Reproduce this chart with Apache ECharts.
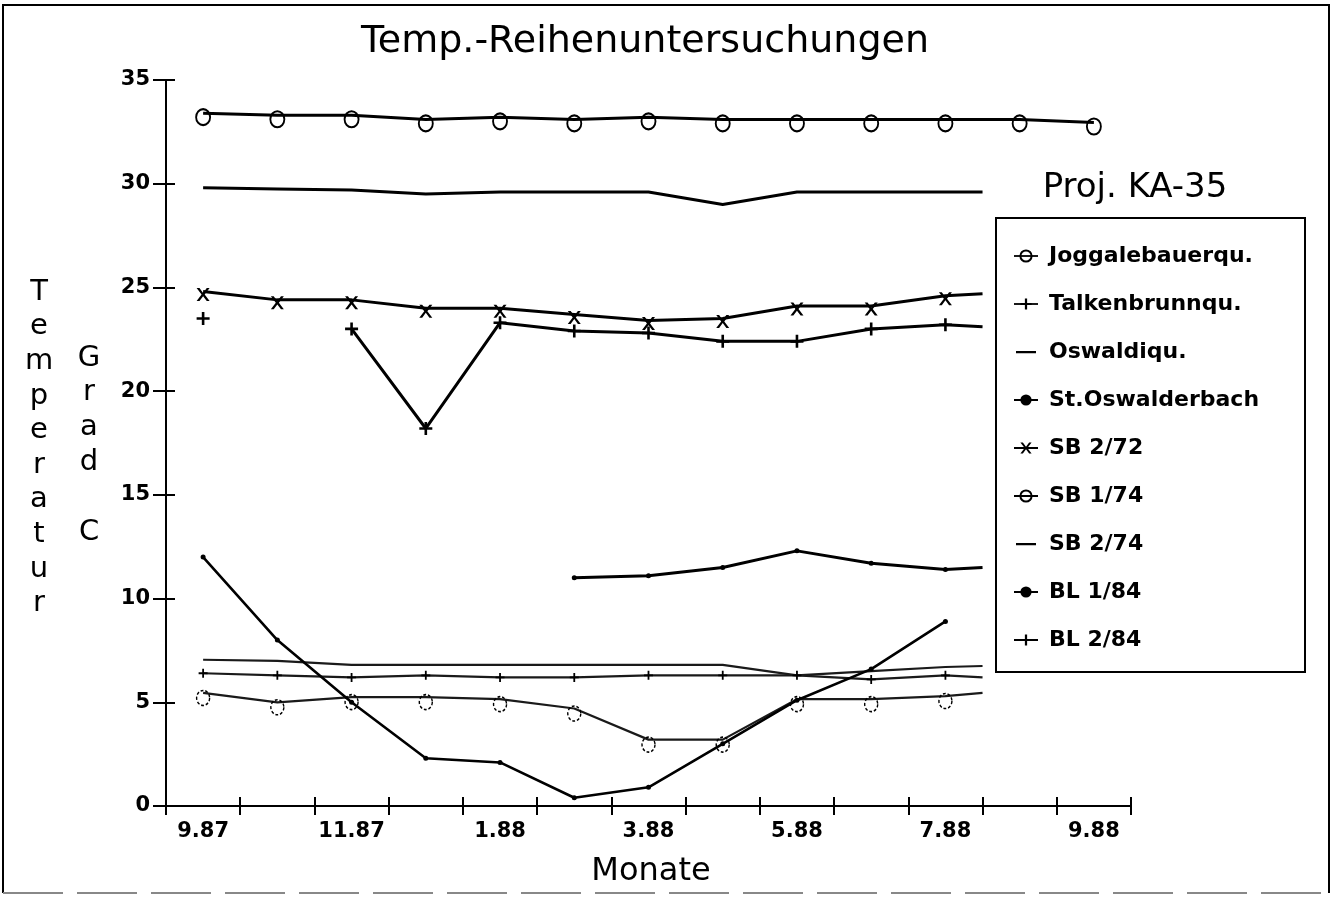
<!DOCTYPE html>
<html>
<head>
<meta charset="utf-8">
<script src="https://cdn.jsdelivr.net/npm/echarts@6/dist/echarts.min.js"></script>
<style>
  html, body { margin: 0; padding: 0; background: #fff; }
  #chart { width: 1335px; height: 898px; }
</style>
</head>
<body>
<div id="chart"></div>
<script>
// Monate (Kategorien der x-Achse)
const monthLabels = ['9.87', '10.87', '11.87', '12.87', '1.88', '2.88', '3.88', '4.88', '5.88', '6.88', '7.88', '8.88', '9.88'];

// Messzeitpunkte als Monatsindex (0 = 9.87), 10.5 = Mitte August 88
const fullPos = [0, 1, 2, 3, 4, 5, 6, 7, 8, 9, 10, 10.5];
const sb174Pos = [0, 1, 2, 3, 4, 5, 6, 7, 8, 9, 10, 11, 12];
const bl184Pos = [5, 6, 7, 8, 9, 10, 10.5];
const bachPos = [0, 1, 2, 3, 4, 5, 6, 7, 8, 9, 10];

// Temperaturen in Grad C
const joggVals = [5.45, 5.0, 5.25, 5.25, 5.15, 4.7, 3.2, 3.2, 5.15, 5.15, 5.3, 5.45];
const talkVals = [6.4, 6.3, 6.2, 6.3, 6.2, 6.2, 6.3, 6.3, 6.3, 6.1, 6.3, 6.2];
const oswaldiVals = [7.05, 7.0, 6.8, 6.8, 6.8, 6.8, 6.8, 6.8, 6.3, 6.5, 6.7, 6.75];
const bachVals = [12.0, 8.0, 5.0, 2.3, 2.1, 0.4, 0.9, 3.0, 5.1, 6.6, 8.9];
const sb272Vals = [24.8, 24.4, 24.4, 24.0, 24.0, 23.7, 23.4, 23.5, 24.1, 24.1, 24.6, 24.7];
const sb174Vals = [33.4, 33.3, 33.3, 33.1, 33.2, 33.1, 33.2, 33.1, 33.1, 33.1, 33.1, 33.1, 32.95];
const sb274Vals = [29.8, 29.75, 29.7, 29.5, 29.6, 29.6, 29.6, 29.0, 29.6, 29.6, 29.6, 29.6];
const bl184Vals = [11.0, 11.1, 11.5, 12.3, 11.7, 11.4, 11.5];
const bl284Vals = [23.5, null, 23.0, 18.2, 23.3, 22.9, 22.8, 22.4, 22.4, 23.0, 23.2, 23.1];

const FONT = 'DejaVu Sans';

// Symbole
const plusPath = 'path://M4,0 H6 V4 H10 V6 H6 V10 H4 V6 H0 V4 H4 Z';
const xPath = 'path://M0,0 L2.2,0 L5,3.8 L7.8,0 L10,0 L6.2,5 L10,10 L7.8,10 L5,6.2 L2.2,10 L0,10 L3.8,5 Z';
// Legendensymbol nur Strich (unsichtbare Eckpunkte halten die Box)
const barIcon = 'path://M0,0 L0.01,0 L0,0.01 Z M2,6 H22 V8.2 H2 Z M24,14 L23.99,14 L24,13.99 Z';

// Punkte bauen; x um 0.5 verschoben, damit der Wert in der Mitte des Monats liegt
function pts(pos, vals) {
  return pos.map((p, i) => {
    const v = vals[i] == null ? '-' : vals[i];
    const d = { value: [p + 0.5, v] };
    if (p % 1 !== 0) d.symbol = 'none';
    return d;
  });
}

function mkSeries(name, pos, vals, opt) {
  return Object.assign({
    name: name,
    type: 'line',
    xAxisIndex: 1,
    yAxisIndex: 0,
    data: pts(pos, vals),
    connectNulls: false,
    animation: false,
    color: '#000',
    lineStyle: { color: '#000', width: 3 },
    symbol: 'none'
  }, opt);
}

const series = [
  mkSeries('Joggalebauerqu.', fullPos, joggVals, {
    lineStyle: { color: '#1a1a1a', width: 2.2 },
    symbol: 'circle', symbolSize: [13, 15], symbolOffset: [0, 5],
    itemStyle: { color: 'rgba(255,255,255,0)', borderColor: '#000', borderWidth: 1.5, borderType: [3, 2] }
  }),
  mkSeries('Talkenbrunnqu.', fullPos, talkVals, {
    lineStyle: { color: '#1a1a1a', width: 2.2 },
    symbol: plusPath, symbolSize: 9,
    itemStyle: { color: '#000' }
  }),
  mkSeries('Oswaldiqu.', fullPos, oswaldiVals, {
    lineStyle: { color: '#1a1a1a', width: 2.2 }
  }),
  mkSeries('St.Oswalderbach', bachPos, bachVals, {
    lineStyle: { color: '#000', width: 2.6 },
    symbol: 'circle', symbolSize: 5,
    itemStyle: { color: '#000' }
  }),
  mkSeries('SB 2/72', fullPos, sb272Vals, {
    symbol: xPath, symbolSize: [13, 13], symbolOffset: [0, 3],
    itemStyle: { color: '#000' }
  }),
  mkSeries('SB 1/74', sb174Pos, sb174Vals, {
    symbol: 'circle', symbolSize: [14, 16], symbolOffset: [0, 4],
    itemStyle: { color: 'rgba(255,255,255,0)', borderColor: '#000', borderWidth: 2 }
  }),
  mkSeries('SB 2/74', fullPos, sb274Vals, {}),
  mkSeries('BL 1/84', bl184Pos, bl184Vals, {
    symbol: 'circle', symbolSize: 5,
    itemStyle: { color: '#000' }
  }),
  mkSeries('BL 2/84', fullPos, bl284Vals, {
    symbol: plusPath, symbolSize: 13,
    itemStyle: { color: '#000' }
  })
];

const legendData = series.map(s => (s.symbol === 'none' ? { name: s.name, icon: barIcon } : { name: s.name }));

const chart = echarts.init(document.getElementById('chart'));

const option = {
  backgroundColor: '#fff',
  animation: false,
  title: {
    text: 'Temp.-Reihenuntersuchungen',
    left: 640,
    top: 18,
    textAlign: 'center',
    textStyle: { fontFamily: FONT, fontSize: 38, fontWeight: 'normal', color: '#000' }
  },
  grid: { left: 166, right: 204, top: 80, bottom: 92, containLabel: false },
  legend: {
    orient: 'vertical',
    left: 1008,
    top: 239,
    itemWidth: 24,
    itemHeight: 14,
    itemGap: 24,
    selectedMode: false,
    textStyle: { fontFamily: FONT, fontSize: 22, fontWeight: 'bold', color: '#000', lineHeight: 24, padding: [0, 0, 0, 6] },
    data: legendData
  },
  xAxis: [
    {
      type: 'category',
      data: monthLabels,
      boundaryGap: true,
      axisLine: { lineStyle: { color: '#000', width: 2 } },
      axisTick: { show: true, interval: 0, alignWithLabel: false, length: 9, lineStyle: { color: '#000', width: 2 } },
      axisLabel: { interval: 1, margin: 15, color: '#000', fontFamily: FONT, fontSize: 21, fontWeight: 'bold' },
      splitLine: { show: false }
    },
    {
      type: 'value',
      min: 0,
      max: 13,
      interval: 1,
      position: 'bottom',
      axisLine: { show: false },
      axisTick: { show: true, inside: true, length: 9, lineStyle: { color: '#000', width: 2 } },
      axisLabel: { show: false },
      splitLine: { show: false }
    }
  ],
  yAxis: [
    {
      type: 'value',
      min: 0,
      max: 35,
      interval: 5,
      axisLine: { show: true, lineStyle: { color: '#000', width: 2 } },
      axisTick: { show: true, length: 13, lineStyle: { color: '#000', width: 2 } },
      axisLabel: { margin: 16, color: '#000', fontFamily: FONT, fontSize: 21, fontWeight: 'bold' },
      splitLine: { show: false }
    },
    {
      type: 'value',
      min: 0,
      max: 35,
      interval: 5,
      position: 'left',
      axisLine: { show: false },
      axisTick: { show: true, inside: true, length: 9, lineStyle: { color: '#000', width: 2 } },
      axisLabel: { show: false },
      splitLine: { show: false }
    }
  ],
  graphic: [
    // Rahmen
    { type: 'polyline', shape: { points: [[3, 893], [3, 5], [1329, 5], [1329, 893]] }, style: { stroke: '#000', lineWidth: 2, fill: null } },
    { type: 'line', shape: { x1: 3, y1: 893, x2: 1329, y2: 893 }, style: { stroke: '#888', lineWidth: 2, lineDash: [60, 14] } },
    // Legendenrahmen
    { type: 'rect', shape: { x: 996, y: 218, width: 309, height: 454 }, style: { stroke: '#000', lineWidth: 2, fill: null }, z: -1 },
    { type: 'text', x: 1135, y: 188, style: { text: 'Proj. KA-35', font: 'normal 34px "DejaVu Sans"', fill: '#000', align: 'center', verticalAlign: 'middle' } },
    { type: 'text', x: 651, y: 872, style: { text: 'Monate', font: 'normal 32px "DejaVu Sans"', fill: '#000', align: 'center', verticalAlign: 'middle' } },
    {
      type: 'text', x: 39, y: 448,
      style: { text: 'T\ne\nm\np\ne\nr\na\nt\nu\nr', font: 'normal 29px "DejaVu Sans"', lineHeight: 34.6, fill: '#000', align: 'center', verticalAlign: 'middle' }
    },
    {
      type: 'text', x: 89, y: 445,
      style: { text: 'G\nr\na\nd\n \nC', font: 'normal 29px "DejaVu Sans"', lineHeight: 34.8, fill: '#000', align: 'center', verticalAlign: 'middle' }
    }
  ],
  series: series
};

chart.setOption(option);
</script>
</body>
</html>
